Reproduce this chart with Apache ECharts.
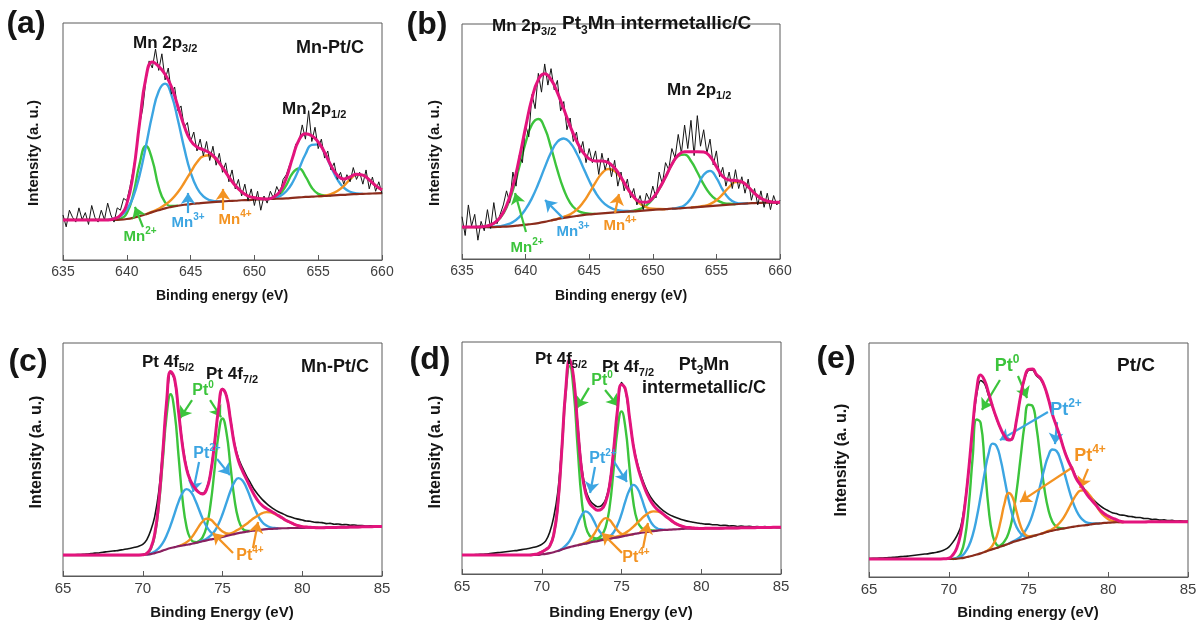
<!DOCTYPE html>
<html>
<head>
<meta charset="utf-8">
<title>XPS Mn 2p / Pt 4f</title>
<script src="https://cdn.jsdelivr.net/npm/echarts@6/dist/echarts.min.js"></script>
<style>
html, body { margin: 0; padding: 0; background: #fff; }
#chart { width: 1204px; height: 628px; }
</style>
</head>
<body>
<div id="chart"></div>
<script>
// ---- energy grids (eV) ----
const mnEnergy = [635,635.5,636,636.5,637,637.5,638,638.5,639,639.5,640,640.5,641,641.5,642,642.5,643,643.5,644,644.5,645,645.5,646,646.5,647,647.5,648,648.5,649,649.5,650,650.5,651,651.5,652,652.5,653,653.5,654,654.5,655,655.5,656,656.5,657,657.5,658,658.5,659,659.5,660];
const mnRawEnergy = [
  635,635.25,635.5,635.75,636,636.25,636.5,636.75,637,637.25,637.5,637.75,638,638.25,638.5,638.75,639,639.25,639.5,639.75,
  640,640.25,640.5,640.75,641,641.25,641.5,641.75,642,642.25,642.5,642.75,643,643.25,643.5,643.75,644,644.25,644.5,644.75,
  645,645.25,645.5,645.75,646,646.25,646.5,646.75,647,647.25,647.5,647.75,648,648.25,648.5,648.75,649,649.25,649.5,649.75,
  650,650.25,650.5,650.75,651,651.25,651.5,651.75,652,652.25,652.5,652.75,653,653.25,653.5,653.75,654,654.25,654.5,654.75,
  655,655.25,655.5,655.75,656,656.25,656.5,656.75,657,657.25,657.5,657.75,658,658.25,658.5,658.75,659,659.25,659.5,659.75,
  660];
const ptEnergy = [
  65,65.25,65.5,65.75,66,66.25,66.5,66.75,67,67.25,67.5,67.75,68,68.25,68.5,68.75,69,69.25,69.5,69.75,
  70,70.25,70.5,70.75,71,71.25,71.5,71.75,72,72.25,72.5,72.75,73,73.25,73.5,73.75,74,74.25,74.5,74.75,
  75,75.25,75.5,75.75,76,76.25,76.5,76.75,77,77.25,77.5,77.75,78,78.25,78.5,78.75,79,79.25,79.5,79.75,
  80,80.25,80.5,80.75,81,81.25,81.5,81.75,82,82.25,82.5,82.75,83,83.25,83.5,83.75,84,84.25,84.5,84.75,
  85];
const ptFitEnergy = [69,69.25,69.5,69.75,70,70.25,70.5,70.75,71,71.25,71.5,71.75,72,72.25,72.5,72.75,73,73.25,73.5,73.75,74,74.25,74.5,74.75,75,75.25,75.5,75.75,76,76.25,76.5,76.75,77,77.25,77.5,77.75,78,78.25,78.5,78.75,79,79.25,79.5,79.75,80,80.25,80.5,80.75,81];

// ---- (a) Mn-Pt/C, Mn 2p ----
const rawA = [
  19,14,21,18,16,22,17,20,15,23,18,16,21,17,24,19,16,22,21,26,
  25,31,38,46,57,64,76,84,81,89,80,87,76,81,70,73,63,65,56,58,
  50,54,46,51,44,50,42,48,40,45,37,41,33,38,30,34,27,32,25,30,
  23,29,21,27,24,29,26,31,28,34,36,40,43,49,50,57,51,63,50,56,
  47,51,43,46,38,41,34,37,32,36,33,39,34,37,32,38,30,35,29,33,
  28];
const bgA = [16.9,16.9,16.9,16.9,16.9,16.9,16.9,16.9,16.9,17.0,17.3,17.8,18.5,19.3,20.2,21.0,21.8,22.4,22.9,23.3,23.6,23.9,24.1,24.3,24.5,24.7,24.9,25.0,25.2,25.3,25.5,25.6,25.7,25.8,25.9,26.0,26.2,26.4,26.6,26.7,26.9,27.0,27.2,27.4,27.5,27.7,27.8,27.9,28.0,28.1,28.2];
const envA = [16.9,16.9,16.9,16.9,16.9,16.9,16.9,16.9,17.4,18.9,23.7,36.4,57.7,76.9,83.5,81.7,78.4,73.1,64.9,56.5,50.4,47.7,46.5,45.2,42.7,39.0,35.0,31.4,28.8,27.0,26.3,25.9,25.7,26.5,28.9,34.6,43.3,50.7,53.3,52.4,49.8,45.4,39.9,35.7,34.2,35.1,36.2,35.8,33.8,31.4,29.6];
const mn2A1 = [0,0,0,0,0,0,0,0,0,0.4,2.5,9.8,22.0,28.8,22.0,9.8,2.5,0.4,0,0,0,0,0,0,0,0,0,0,0,0,0,0,0,0,0,0,0,0,0,0,0,0,0,0,0,0,0,0,0,0,0];
const mn3A1 = [0,0,0,0,0,0,0,0,0.5,1.5,3.9,8.8,17.2,28.8,41.1,50.2,52.6,47.2,36.3,23.9,13.4,6.5,2.7,0.95,0.3,0,0,0,0,0,0,0,0,0,0,0,0,0,0,0,0,0,0,0,0,0,0,0,0,0,0];
const mn4A1 = [0,0,0,0,0,0,0,0,0,0,0,0,0,0,0.2,0.65,1.5,3.1,5.7,9.3,13.4,17.3,19.7,19.9,17.9,14.3,10.1,6.4,3.6,1.7,0.8,0.3,0,0,0,0,0,0,0,0,0,0,0,0,0,0,0,0,0,0,0];
const mn2A2 = [0,0,0,0,0,0,0,0,0,0,0,0,0,0,0,0,0,0,0,0,0,0,0,0,0,0,0,0,0,0,0,0,0,0.4,1.9,5.6,10.5,12.2,8.7,3.8,1.0,0.2,0,0,0,0,0,0,0,0,0];
const mn3A2 = [0,0,0,0,0,0,0,0,0,0,0,0,0,0,0,0,0,0,0,0,0,0,0,0,0,0,0,0,0,0,0,0,0,0.3,1.1,3.0,6.6,12.1,18.0,21.9,21.9,18.0,12.1,6.6,3.0,1.1,0.3,0,0,0,0];
const mn4A2 = [0,0,0,0,0,0,0,0,0,0,0,0,0,0,0,0,0,0,0,0,0,0,0,0,0,0,0,0,0,0,0,0,0,0,0,0,0,0,0,0,0,0.15,0.6,1.7,3.7,6.3,8.1,7.9,5.8,3.3,1.4];

// ---- (b) Pt3Mn intermetallic/C, Mn 2p ----
const rawB = [
  18,10,23,14,19,8,16,12,21,13,24,15,19,23,29,24,37,31,44,41,
  57,52,70,64,79,71,83,74,81,72,76,63,67,55,60,50,54,45,50,41,
  47,41,46,36,45,38,43,35,42,31,37,29,34,26,30,23,27,21,28,25,
  31,26,37,32,41,38,47,43,53,45,57,47,59,44,61,48,55,45,51,40,
  46,35,39,31,37,30,38,30,35,28,34,25,30,23,29,22,28,21,27,23,
  25];
const bgB = [13.6,13.6,13.6,13.6,13.6,13.6,13.7,13.8,14.0,14.3,14.6,14.9,15.3,15.8,16.4,17.0,17.5,17.9,18.3,18.7,19.0,19.2,19.4,19.6,19.8,20.0,20.2,20.3,20.5,20.7,20.9,21.1,21.2,21.4,21.5,21.7,21.9,22.1,22.3,22.5,22.7,22.9,23.1,23.3,23.5,23.7,23.8,23.9,24.0,24.0,24.1];
const envB = [13.6,13.6,13.6,13.7,14.1,15.2,17.7,22.7,31.0,42.7,56.1,68.3,76.3,78.8,76.3,70.8,63.8,56.6,50.3,45.5,42.6,41.7,41.7,41.0,38.7,34.8,30.2,26.5,24.3,24.1,26.0,29.9,34.9,40.3,44.2,45.6,45.6,45.6,45.5,43.6,39.3,35.1,33.6,33.4,32.8,30.7,27.9,25.8,24.7,24.2,24.1];
const mn2B1 = [0,0,0,0.1,0.5,1.5,3.7,8.1,15.3,24.9,34.9,42.4,44.3,39.9,31.0,20.8,12.1,6.0,2.6,1.0,0.3,0,0,0,0,0,0,0,0,0,0,0,0,0,0,0,0,0,0,0,0,0,0,0,0,0,0,0,0,0,0];
const mn3B1 = [0,0,0,0,0,0.1,0.3,0.8,1.7,3.5,6.6,11.0,16.7,23.1,28.9,32.9,33.8,31.6,26.8,20.6,14.3,9.1,5.2,2.7,1.3,0.6,0.2,0,0,0,0,0,0,0,0,0,0,0,0,0,0,0,0,0,0,0,0,0,0,0,0];
const mn4B1 = [0,0,0,0,0,0,0,0,0,0,0,0,0,0,0,0.1,0.4,1.1,2.6,5.2,9.0,13.4,17.1,18.7,17.6,14.2,9.8,5.9,3.0,1.3,0.5,0.2,0,0,0,0,0,0,0,0,0,0,0,0,0,0,0,0,0,0,0];
const mn2B2 = [0,0,0,0,0,0,0,0,0,0,0,0,0,0,0,0,0,0,0,0,0,0,0,0,0,0,0,0.3,0.8,2.1,4.6,8.6,13.7,18.9,22.4,22.7,19.8,14.8,9.5,5.2,2.5,1.0,0.4,0,0,0,0,0,0,0,0];
const mn3B2 = [0,0,0,0,0,0,0,0,0,0,0,0,0,0,0,0,0,0,0,0,0,0,0,0,0,0,0,0,0,0,0,0,0,0,0.3,1.2,3.9,8.6,13.5,15.0,11.8,6.5,2.6,0.7,0.1,0,0,0,0,0,0];
const mn4B2 = [0,0,0,0,0,0,0,0,0,0,0,0,0,0,0,0,0,0,0,0,0,0,0,0,0,0,0,0,0,0,0,0,0,0,0,0,0,0.1,0.25,0.85,2.3,4.7,7.5,9.4,9.2,7.0,4.1,1.9,0.7,0.2,0];

// ---- (c) Mn-Pt/C, Pt 4f ----
const rawC = [
  8.9,9.0,8.9,9.1,9.2,9.3,9.4,9.6,9.8,9.9,10.2,10.4,10.6,10.8,11.0,11.3,11.6,11.9,12.3,12.8,
  13.6,15.5,19.5,25.5,36.0,53.5,75.0,87.5,84.0,70.5,56.5,46.5,41.0,38.0,36.0,35.5,37.5,44.5,57.0,71.5,
  80.5,77.5,67.5,57.0,50.5,46.5,43.0,40.0,37.0,34.8,32.8,31.2,29.8,28.6,27.6,26.8,26.0,25.4,24.8,24.4,
  24.0,23.6,23.5,23.1,23.0,22.9,22.5,22.6,22.2,22.3,22.0,22.1,21.8,21.9,21.6,21.7,21.4,21.5,21.3,21.4,
  21.2];
const bgC = [
  9,9,9,9,9,9,9,9,9,9,9,9,9,9,9,9,9,9,9,9,
  9.1,9.2,9.4,9.8,10.3,10.9,11.5,12.0,12.4,12.8,13.1,13.4,13.7,14.1,14.5,14.9,15.3,15.7,16.0,16.4,
  16.8,17.2,17.6,18.0,18.4,18.7,19.0,19.3,19.5,19.7,19.9,20.1,20.2,20.3,20.4,20.5,20.5,20.6,20.6,20.6,
  20.6,20.7,20.7,20.7,20.7,20.7,20.8,20.8,20.8,20.9,20.9,20.9,21.0,21.0,21.0,21.1,21.1,21.1,21.2,21.2,
  21.2];
const envC = [9.0,9.0,9.0,9.0,9.1,9.7,11.9,18.0,31.4,52.4,75.1,87.8,84.5,70.2,55.6,45.9,40.8,38.0,36.0,35.2,37.1,44.0,56.9,71.6,80.1,77.2,67.0,56.3,49.4,45.1,41.6,38.0,34.7,32.0,30.2,29.0,28.0,27.0,25.9,24.9,23.8,23.0,22.2,21.6,21.2,21.0,20.9,20.8,20.7];
const pt0C1 = [0,0,0,0,0,0.5,2.2,7.5,19.5,38.3,57.6,66,57.6,38.3,19.5,7.5,2.2,0.5,0,0,0,0,0,0,0,0,0,0,0,0,0,0,0,0,0,0,0,0,0,0,0,0,0,0,0,0,0,0,0];
const pt0C2 = [0,0,0,0,0,0,0,0,0,0,0,0,0,0,0,0,0,0,0.4,1.7,5.8,15.0,29.5,44.3,50.8,44.3,29.5,15.0,5.8,1.7,0.4,0,0,0,0,0,0,0,0,0,0,0,0,0,0,0,0,0,0];
const pt2C1 = [0,0,0,0,0,0,0.3,0.7,1.6,3.2,6.0,9.8,14.5,19.1,22.6,23.9,22.6,19.1,14.5,9.8,6.0,3.2,1.6,0.7,0.3,0,0,0,0,0,0,0,0,0,0,0,0,0,0,0,0,0,0,0,0,0,0,0,0];
const pt2C2 = [0,0,0,0,0,0,0,0,0,0,0,0,0,0,0,0,0,0,0,0.3,0.7,1.6,3.2,5.9,9.7,14.3,18.9,22.3,23.6,22.3,18.9,14.3,9.7,5.9,3.2,1.6,0.7,0.3,0,0,0,0,0,0,0,0,0,0,0];
const pt4C1 = [0,0,0,0,0,0,0,0,0,0,0,0,0,0,0.4,1.1,2.3,4.3,6.6,8.5,9.3,8.5,6.6,4.3,2.3,1.1,0.4,0,0,0,0,0,0,0,0,0,0,0,0,0,0,0,0,0,0,0,0,0,0];
const pt4C2 = [0,0,0,0,0,0,0,0,0,0,0,0,0,0,0,0,0,0,0,0,0,0,0,0,0.2,0.3,0.6,1.0,1.6,2.4,3.3,4.4,5.5,6.4,7.1,7.3,7.1,6.4,5.5,4.4,3.3,2.4,1.6,1.0,0.6,0.3,0.2,0.1,0];

// ---- (d) Pt3Mn intermetallic/C, Pt 4f ----
const rawD = [
  8.1,8.2,8.2,8.3,8.4,8.5,8.6,8.8,9.0,9.2,9.4,9.6,9.8,10.0,10.2,10.5,10.8,11.1,11.5,12.0,
  12.8,14.3,18.0,24.5,35.0,54.0,79.0,91.5,85.0,65.0,46.5,36.5,32.0,30.0,29.0,29.5,32.0,39.0,53.5,71.0,
  82.5,79.0,67.5,55.5,47.5,42.0,37.5,34.0,31.5,29.6,28.0,26.7,25.6,24.8,24.1,23.5,23.0,22.6,22.3,22.0,
  21.8,21.5,21.5,21.2,21.2,20.9,21.0,20.7,20.8,20.5,20.7,20.4,20.6,20.3,20.5,20.2,20.4,20.1,20.3,20.1,
  20.1];
const bgD = [
  8.2,8.2,8.2,8.2,8.2,8.2,8.2,8.2,8.2,8.2,8.2,8.2,8.2,8.2,8.2,8.2,8.2,8.2,8.2,8.2,
  8.5,8.7,9.0,9.4,9.9,10.5,11.1,11.6,12.0,12.4,12.8,13.1,13.5,13.9,14.2,14.6,14.9,15.2,15.5,15.8,
  16.1,16.5,16.8,17.2,17.5,17.8,18.0,18.3,18.5,18.7,18.9,19.0,19.1,19.2,19.3,19.4,19.5,19.6,19.6,19.6,
  19.6,19.7,19.7,19.7,19.7,19.7,19.8,19.8,19.8,19.8,19.9,19.9,19.9,19.9,20.0,20.0,20.0,20.0,20.1,20.1,
  20.1];
const envD = [8.2,8.2,8.4,8.7,9.5,10.5,12.0,16.9,29.3,52.9,79.1,92.3,84.4,63.7,44.8,34.9,30.5,28.6,27.5,28.0,30.9,38.0,53.0,70.8,81.7,79.5,67.6,55.0,46.7,40.9,36.2,32.5,29.7,27.8,26.5,25.0,23.7,22.4,21.4,20.7,20.2,20.0,19.8,19.7,19.6,19.7,19.7,19.7,19.7];
const pt0D1 = [0,0,0.2,0.5,1.0,1.8,3.0,7.5,19.4,42.1,66.9,78,66.9,42.1,19.4,7.5,3.0,1.8,1.0,0.5,0.2,0,0,0,0,0,0,0,0,0,0,0,0,0,0,0,0,0,0,0,0,0,0,0,0,0,0,0,0];
const pt0D2 = [0,0,0,0,0,0,0,0,0,0,0,0,0,0,0,0,0.3,0.7,1.2,2.1,5.2,13.4,29.2,46.3,54,46.3,29.2,13.4,5.2,2.1,1.2,0.7,0.3,0,0,0,0,0,0,0,0,0,0,0,0,0,0,0,0];
const pt2D1 = [0,0,0,0,0,0,0,0,0,0.3,1.1,2.7,5.5,9.2,12.5,13.9,12.5,9.2,5.5,2.7,1.1,0.3,0.1,0,0,0,0,0,0,0,0,0,0,0,0,0,0,0,0,0,0,0,0,0,0,0,0,0,0];
const pt2D2 = [0,0,0,0,0,0,0,0,0,0,0,0,0,0,0,0,0,0,0,0,0.3,0.9,2.4,5.3,9.7,15.0,19.4,21.2,19.4,15.0,9.7,5.3,2.4,0.9,0.3,0,0,0,0,0,0,0,0,0,0,0,0,0,0];
const pt4D1 = [0,0,0,0,0,0,0,0,0,0,0,0,0,0,0.1,0.4,1.2,3.0,5.6,8.1,9.2,8.1,5.6,3.0,1.2,0.4,0.1,0,0,0,0,0,0,0,0,0,0,0,0,0,0,0,0,0,0,0,0,0,0];
const pt4D2 = [0,0,0,0,0,0,0,0,0,0,0,0,0,0,0,0,0,0,0,0,0,0.1,0.2,0.4,0.7,1.3,2.1,3.2,4.6,6.0,7.3,8.2,8.5,8.2,7.3,6.0,4.6,3.2,2.1,1.3,0.7,0.4,0.2,0.1,0,0,0,0,0];

// ---- (e) Pt/C, Pt 4f ----
const rawE = [
  7.9,8.0,8.0,8.1,8.2,8.3,8.4,8.5,8.7,8.8,9.0,9.2,9.4,9.6,9.8,10.0,10.3,10.6,11.0,11.7,
  12.8,14.8,17.5,21.5,31.0,46.0,63.5,78.0,84.0,82.5,77.5,72.5,67.5,63.3,60.2,58.5,59.5,67.0,77.0,84.5,
  88.3,88.5,86.0,84.5,81.2,76.0,69.5,64.5,59.5,54.2,49.8,46.3,42.5,40.0,37.6,35.3,33.5,31.8,30.4,29.2,
  28.3,27.5,27.1,26.5,26.4,25.9,25.8,25.4,25.4,25.0,25.0,24.6,24.7,24.3,24.4,24.1,24.2,23.9,24.0,23.8,
  23.8];
const bgE = [
  7.7,7.7,7.7,7.7,7.7,7.7,7.7,7.7,7.7,7.7,7.7,7.7,7.7,7.7,7.7,7.7,7.7,7.7,7.7,7.7,
  7.7,7.7,7.8,8.0,8.3,8.7,9.1,9.6,10.1,10.7,11.3,11.9,12.4,13.0,13.6,14.2,14.9,15.4,15.9,16.4,
  16.9,17.4,17.9,18.4,18.9,19.4,19.8,20.2,20.5,20.8,21.1,21.4,21.7,21.9,22.1,22.3,22.6,22.8,22.9,23.1,
  23.2,23.3,23.4,23.4,23.5,23.5,23.5,23.5,23.5,23.5,23.6,23.6,23.6,23.6,23.6,23.6,23.6,23.6,23.6,23.6,
  23.6];
const envE = [7.7,7.7,7.7,7.8,8.0,9.4,12.3,18.7,30.0,45.7,64.2,79.9,86.3,83.9,78.5,72.8,67.8,63.5,60.3,58.5,59.3,67.1,77.1,84.9,88.7,88.9,86.5,85.0,81.5,76.0,69.5,64.5,59.5,54.0,49.5,46.0,42.0,39.5,37.0,34.5,32.5,30.5,28.5,27.0,26.0,25.2,24.5,23.8,23.5];
const pt0E1 = [0,0,0,0,0,0,0.3,1.9,7.7,21.4,42.0,57.7,55.7,37.8,17.9,6.0,1.4,0.2,0,0,0,0,0,0,0,0,0,0,0,0,0,0,0,0,0,0,0,0,0,0,0,0,0,0,0,0,0,0,0];
const pt0E2 = [0,0,0,0,0,0,0,0,0,0,0,0,0,0,0,0,0,0.5,1.7,4.6,10.7,21.1,34.9,48.5,56.7,55.7,46.1,32.0,18.7,9.2,3.8,1.3,0.4,0,0,0,0,0,0,0,0,0,0,0,0,0,0,0,0];
const pt2E1 = [0,0,0,0,0,0,0.3,0.8,2.0,4.4,8.8,15.6,24.4,33.8,41.4,45.1,43.5,37.2,28.2,18.9,11.3,6.0,2.8,1.1,0.4,0.1,0,0,0,0,0,0,0,0,0,0,0,0,0,0,0,0,0,0,0,0,0,0,0];
const pt2E2 = [0,0,0,0,0,0,0,0,0,0,0,0,0,0,0,0,0,0,0,0,0.2,0.6,1.3,2.8,5.3,9.3,14.7,21.1,27.5,32.4,34.7,33.7,29.7,23.7,17.2,11.3,6.7,3.6,1.8,0.8,0.3,0.1,0,0,0,0,0,0,0];
const pt4E1 = [0,0,0,0,0,0,0,0,0,0,0,0,0,0,0.4,1.6,4.8,10.8,17.9,21.7,19.2,12.6,6.0,2.1,0.5,0.1,0,0,0,0,0,0,0,0,0,0,0,0,0,0,0,0,0,0,0,0,0,0,0];
const pt4E2 = [0,0,0,0,0,0,0,0,0,0,0,0,0,0,0,0,0,0,0,0,0,0,0,0,0,0,0,0,0.1,0.3,0.7,1.6,3.0,5.1,7.9,10.9,13.5,15.0,15.0,13.4,10.8,7.8,5.0,2.9,1.5,0.7,0.3,0.1,0];

// ---- styling ----
const FONT = '"Liberation Sans", Arial, Helvetica, sans-serif';
const GREEN = '#3cc43c', BLUE = '#3ca5e2', ORANGE = '#f39322', PINK = '#e3147d';
const BROWN = '#8b2c1c', PLUM = '#8a2060', INK = '#151515';

function check(name, arr, n) {
  if (arr.length !== n) throw new Error(name + ' has ' + arr.length + ' points, expected ' + n);
}
[['rawA', rawA], ['rawB', rawB]].forEach(a => check(a[0], a[1], 101));
[['bgA', bgA], ['envA', envA], ['bgB', bgB], ['envB', envB], ['mn2A1', mn2A1], ['mn3A1', mn3A1], ['mn4A1', mn4A1],
 ['mn2A2', mn2A2], ['mn3A2', mn3A2], ['mn4A2', mn4A2], ['mn2B1', mn2B1], ['mn3B1', mn3B1], ['mn4B1', mn4B1],
 ['mn2B2', mn2B2], ['mn3B2', mn3B2], ['mn4B2', mn4B2]].forEach(a => check(a[0], a[1], 51));
[['rawC', rawC], ['bgC', bgC], ['rawD', rawD], ['bgD', bgD], ['rawE', rawE], ['bgE', bgE]].forEach(a => check(a[0], a[1], 81));
[['envC', envC], ['envD', envD], ['envE', envE], ['pt0C1', pt0C1], ['pt0C2', pt0C2], ['pt2C1', pt2C1], ['pt2C2', pt2C2],
 ['pt4C1', pt4C1], ['pt4C2', pt4C2], ['pt0D1', pt0D1], ['pt0D2', pt0D2], ['pt2D1', pt2D1], ['pt2D2', pt2D2],
 ['pt4D1', pt4D1], ['pt4D2', pt4D2], ['pt0E1', pt0E1], ['pt0E2', pt0E2], ['pt2E1', pt2E1], ['pt2E2', pt2E2],
 ['pt4E1', pt4E1], ['pt4E2', pt4E2]].forEach(a => check(a[0], a[1], 49));

function pairs(xs, ys) { return xs.map((x, i) => [x, ys[i]]); }
// a fitted component drawn on top of its background, only around where it is non-zero
function onBg(xs, bg, h, off) {
  const out = [];
  for (let i = 0; i < h.length; i++) {
    const near = h[i] > 0 || (i > 0 && h[i - 1] > 0) || (i < h.length - 1 && h[i + 1] > 0);
    if (near) out.push([xs[i], +(bg[i + off] + h[i]).toFixed(2)]);
  }
  return out;
}
// envelope over the whole Pt range: fitted part in the middle, background elsewhere
function fullEnv(bg, env, off) {
  return ptEnergy.map((x, i) => [x, (i >= off && i - off < env.length) ? env[i - off] : bg[i]]);
}
const PT_OFF = ptEnergy.indexOf(ptFitEnergy[0]);

const panels = [
  { grid: { left: 63, top: 23, width: 319, height: 237 }, min: 635, max: 660, tick: 14,
    rawX: mnRawEnergy, raw: rawA, rawW: 1, rawZ: 4.5, rawSmooth: false, fitX: mnEnergy, bgX: mnEnergy, bg: bgA, off: 0, bgColor: BROWN,
    env: pairs(mnEnergy, envA),
    comps: [[mn2A1, GREEN], [mn2A2, GREEN], [mn3A1, BLUE], [mn3A2, BLUE], [mn4A1, ORANGE], [mn4A2, ORANGE]],
    arrows: [[GREEN, 641.27, 13.9, 640.64, 22.4], [BLUE, 644.8, 19.8, 644.8, 28.3], [ORANGE, 647.54, 21.1, 647.54, 30.0]] },
  { grid: { left: 462, top: 24, width: 318, height: 235 }, min: 635, max: 660, tick: 14,
    rawX: mnRawEnergy, raw: rawB, rawW: 1, rawZ: 4.5, rawSmooth: false, fitX: mnEnergy, bgX: mnEnergy, bg: bgB, off: 0, bgColor: BROWN,
    env: pairs(mnEnergy, envB),
    comps: [[mn2B1, GREEN], [mn2B2, GREEN], [mn3B1, BLUE], [mn3B2, BLUE], [mn4B1, ORANGE], [mn4B2, ORANGE]],
    arrows: [[GREEN, 640.03, 11.5, 639.17, 28.1], [BLUE, 642.94, 17.4, 641.53, 25.1], [ORANGE, 647.03, 19.6, 647.34, 27.7]] },
  { grid: { left: 63, top: 343, width: 319, height: 233 }, min: 65, max: 85, tick: 15,
    rawX: ptEnergy, raw: rawC, rawW: 1.6, rawZ: 2, rawSmooth: 0.3, fitX: ptFitEnergy, bgX: ptEnergy, bg: bgC, off: PT_OFF, bgColor: PLUM,
    env: fullEnv(bgC, envC, PT_OFF),
    comps: [[pt0C1, GREEN], [pt0C2, GREEN], [pt2C1, BLUE], [pt2C2, BLUE], [pt4C1, ORANGE], [pt4C2, ORANGE]],
    arrows: [[GREEN, 73.09, 75.5, 72.34, 67.8], [GREEN, 74.22, 75.5, 74.91, 68.2], [BLUE, 73.53, 48.9, 73.15, 36.1],
             [BLUE, 74.66, 50.2, 75.47, 43.3], [ORANGE, 75.66, 9.9, 74.40, 18.5], [ORANGE, 76.91, 12.0, 77.23, 23.2]] },
  { grid: { left: 462, top: 342, width: 319, height: 232 }, min: 65, max: 85, tick: 15,
    rawX: ptEnergy, raw: rawD, rawW: 1.6, rawZ: 2, rawSmooth: 0.3, fitX: ptFitEnergy, bgX: ptEnergy, bg: bgD, off: PT_OFF, bgColor: PLUM,
    env: fullEnv(bgD, envD, PT_OFF),
    comps: [[pt0D1, GREEN], [pt0D2, GREEN], [pt2D1, BLUE], [pt2D2, BLUE], [pt4D1, ORANGE], [pt4D2, ORANGE]],
    arrows: [[GREEN, 72.96, 80.2, 72.21, 71.6], [GREEN, 73.97, 79.3, 74.78, 72.4], [BLUE, 73.34, 46.1, 73.03, 34.9],
             [BLUE, 74.47, 49.1, 75.34, 39.7], [ORANGE, 75.03, 9.1, 73.78, 17.7], [ORANGE, 76.35, 11.2, 76.66, 22.0]] },
  { grid: { left: 869, top: 343, width: 319, height: 234 }, min: 65, max: 85, tick: 15,
    rawX: ptEnergy, raw: rawE, rawW: 1.6, rawZ: 2, rawSmooth: 0.3, fitX: ptFitEnergy, bgX: ptEnergy, bg: bgE, off: PT_OFF, bgColor: BROWN,
    env: fullEnv(bgE, envE, PT_OFF),
    comps: [[pt0E1, GREEN], [pt0E2, GREEN], [pt2E1, BLUE], [pt2E2, BLUE], [pt4E1, ORANGE], [pt4E2, ORANGE]],
    arrows: [[GREEN, 73.21, 84.2, 72.08, 71.4], [GREEN, 74.34, 85.9, 74.91, 76.5], [BLUE, 76.22, 70.5, 73.21, 58.5],
             [BLUE, 76.79, 66.2, 76.66, 56.8], [ORANGE, 77.79, 47.0, 74.47, 32.1], [ORANGE, 78.73, 46.2, 78.23, 38.0]] }
];

const grids = [], xAxes = [], yAxes = [], series = [];
panels.forEach((p, k) => {
  grids.push(Object.assign({ show: true, borderColor: '#5a5a5a', borderWidth: 1, backgroundColor: 'transparent' }, p.grid));
  xAxes.push({
    gridIndex: k, type: 'value', min: p.min, max: p.max, interval: 5,
    axisLine: { show: true, lineStyle: { color: '#5a5a5a', width: 1 } },
    axisTick: { show: true, inside: true, length: 5, lineStyle: { color: '#5a5a5a' } },
    axisLabel: { color: '#404040', fontSize: p.tick, fontFamily: FONT, margin: 5, showMinLabel: true, showMaxLabel: true },
    splitLine: { show: false }
  });
  yAxes.push({ gridIndex: k, type: 'value', min: 0, max: 100, show: false });

  series.push({
    type: 'line', xAxisIndex: k, yAxisIndex: k, data: pairs(p.rawX, p.raw), showSymbol: false, silent: true,
    smooth: p.rawSmooth, lineStyle: { color: INK, width: p.rawW }, z: p.rawZ
  });
  p.comps.forEach(c => {
    series.push({
      type: 'line', xAxisIndex: k, yAxisIndex: k, data: onBg(p.fitX, p.bg, c[0], p.off), showSymbol: false, silent: true,
      smooth: 0.5, lineStyle: { color: c[1], width: 2.4 }, z: 3
    });
  });
  series.push({
    type: 'line', xAxisIndex: k, yAxisIndex: k, data: pairs(p.bgX, p.bg), showSymbol: false, silent: true,
    smooth: 0.5, lineStyle: { color: p.bgColor, width: 2.2 }, z: 4
  });
  series.push({
    type: 'line', xAxisIndex: k, yAxisIndex: k, data: p.env, showSymbol: false, silent: true,
    smooth: 0.5, lineStyle: { color: PINK, width: 3 }, z: 5,
    markLine: {
      silent: true, symbol: ['none', 'arrow'], symbolSize: 11, label: { show: false }, animation: false,
      data: p.arrows.map(a => [{ coord: [a[1], a[2]], lineStyle: { color: a[0], width: 2.2, type: 'solid' } }, { coord: [a[3], a[4]] }])
    }
  });
});

function rich(size, color) {
  const small = Math.round(size * 0.65);
  return {
    m: { fontSize: size, fontWeight: 'bold', fontFamily: FONT, fill: color, lineHeight: size + 6, verticalAlign: 'middle' },
    s: { fontSize: small, fontWeight: 'bold', fontFamily: FONT, fill: color, lineHeight: 12, verticalAlign: 'bottom' },
    p: { fontSize: small, fontWeight: 'bold', fontFamily: FONT, fill: color, lineHeight: 12, verticalAlign: 'top' }
  };
}
function txt(x, y, text, size, color, align, rot) {
  return {
    type: 'text', x: x, y: y, z: 100, rotation: rot || 0, silent: true,
    style: { text: text, rich: rich(size, color || INK), fill: color || INK, fontSize: size, fontWeight: 'bold',
             fontFamily: FONT, align: align || 'center', verticalAlign: 'middle' }
  };
}
const R90 = Math.PI / 2;
const graphic = [
  txt(26, 24, '(a)', 32), txt(427, 25, '(b)', 32), txt(28, 362, '(c)', 32), txt(430, 360, '(d)', 32), txt(836, 359, '(e)', 32),
  txt(222, 296, 'Binding energy (eV)', 14), txt(621, 296, 'Binding energy (eV)', 14),
  txt(222, 613, 'Binding Energy (eV)', 15), txt(621, 613, 'Binding Energy (eV)', 15), txt(1028, 613, 'Binding energy (eV)', 15),
  txt(34, 153, 'Intensity (a. u.)', 15, INK, 'center', R90), txt(435, 153, 'Intensity (a. u.)', 15, INK, 'center', R90),
  txt(37, 452, 'Intensity (a. u.)', 16, INK, 'center', R90), txt(436, 452, 'Intensity (a. u.)', 16, INK, 'center', R90),
  txt(842, 460, 'Intensity (a. u.)', 16, INK, 'center', R90),
  // (a)
  txt(133, 43, '{m|Mn 2p}{s|3/2}', 17, INK, 'left'), txt(330, 48, 'Mn-Pt/C', 18),
  txt(282, 109, '{m|Mn 2p}{s|1/2}', 17, INK, 'left'),
  txt(140, 237, '{m|Mn}{p|2+}', 15, GREEN), txt(188, 223, '{m|Mn}{p|3+}', 15, BLUE), txt(235, 220, '{m|Mn}{p|4+}', 15, ORANGE),
  // (b)
  txt(492, 26, '{m|Mn 2p}{s|3/2}', 17, INK, 'left'), txt(562, 24, '{m|Pt}{s|3}{m|Mn intermetallic/C}', 19, INK, 'left'),
  txt(667, 90, '{m|Mn 2p}{s|1/2}', 17, INK, 'left'),
  txt(527, 248, '{m|Mn}{p|2+}', 15, GREEN), txt(573, 232, '{m|Mn}{p|3+}', 15, BLUE), txt(620, 226, '{m|Mn}{p|4+}', 15, ORANGE),
  // (c)
  txt(142, 362, '{m|Pt 4f}{s|5/2}', 17, INK, 'left'), txt(206, 374, '{m|Pt 4f}{s|7/2}', 17, INK, 'left'), txt(335, 367, 'Mn-Pt/C', 18),
  txt(203, 391, '{m|Pt}{p|0}', 16, GREEN), txt(207, 454, '{m|Pt}{p|2+}', 16, BLUE), txt(250, 556, '{m|Pt}{p|4+}', 16, ORANGE),
  // (d)
  txt(535, 359, '{m|Pt 4f}{s|5/2}', 17, INK, 'left'), txt(602, 367, '{m|Pt 4f}{s|7/2}', 17, INK, 'left'),
  txt(704, 365, '{m|Pt}{s|3}{m|Mn}', 18), txt(704, 388, 'intermetallic/C', 18),
  txt(602, 381, '{m|Pt}{p|0}', 16, GREEN), txt(603, 459, '{m|Pt}{p|2+}', 16, BLUE), txt(636, 558, '{m|Pt}{p|4+}', 16, ORANGE),
  // (e)
  txt(1136, 366, 'Pt/C', 19),
  txt(1007, 366, '{m|Pt}{p|0}', 18, GREEN), txt(1066, 410, '{m|Pt}{p|2+}', 18, BLUE), txt(1090, 456, '{m|Pt}{p|4+}', 18, ORANGE)
];

const chart = echarts.init(document.getElementById('chart'), null, { renderer: 'canvas' });
chart.setOption({
  animation: false,
  backgroundColor: '#ffffff',
  grid: grids,
  xAxis: xAxes,
  yAxis: yAxes,
  series: series,
  graphic: graphic
});
</script>
</body>
</html>
